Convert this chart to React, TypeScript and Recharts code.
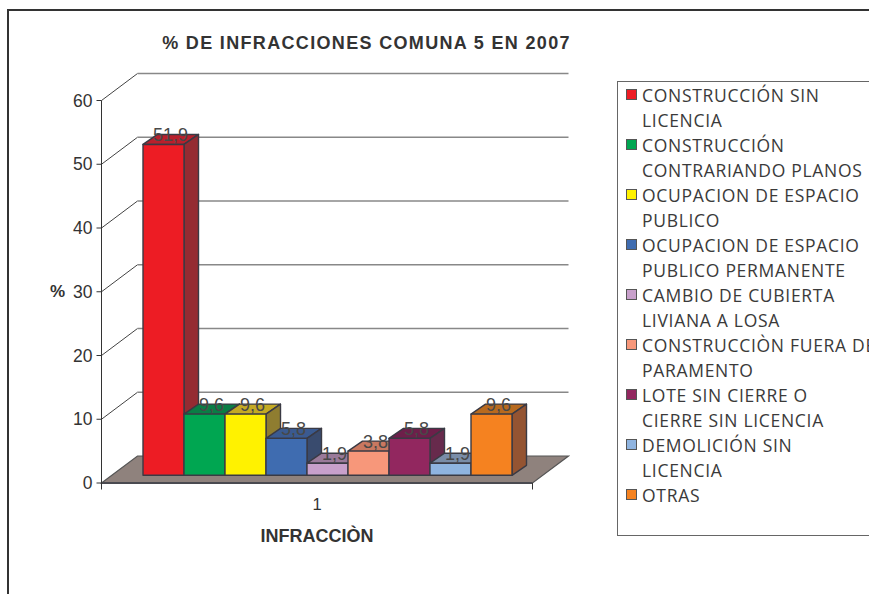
import React from "react";
import { BarChart, Bar, XAxis, YAxis, Legend, ReferenceLine, LabelList, Label } from "recharts";

const title = "% DE INFRACCIONES COMUNA 5 EN 2007";
const categories = ["1"];
const yTicks = [0, 10, 20, 30, 40, 50, 60];
const seriesNames = [
  "CONSTRUCCIÓN SIN\nLICENCIA",
  "CONSTRUCCIÓN\nCONTRARIANDO PLANOS",
  "OCUPACION DE ESPACIO\nPUBLICO",
  "OCUPACION DE ESPACIO\nPUBLICO PERMANENTE",
  "CAMBIO DE CUBIERTA\nLIVIANA A LOSA",
  "CONSTRUCCIÒN FUERA DE\nPARAMENTO",
  "LOTE SIN CIERRE O\nCIERRE SIN LICENCIA",
  "DEMOLICIÓN SIN\nLICENCIA",
  "OTRAS",
];
const seriesValues = [51.9, 9.6, 9.6, 5.8, 1.9, 3.8, 5.8, 1.9, 9.6];
const frontColors = ["#ed1c24", "#00a651", "#fff200", "#3f6cb0", "#c8a0cb", "#f7977a", "#92275f", "#8fb4e0", "#f58220"];
const topColors = ["#b8202c", "#0a7d45", "#c4aa24", "#3a5a90", "#9a7a9a", "#c97860", "#6d1f4a", "#7a8da8", "#b86a1e"];
const sideColors = ["#952b32", "#1f6b45", "#8f7d30", "#394b6e", "#85698a", "#9c6552", "#672a4c", "#62748c", "#945432"];

const data = categories.map((c) => {
  const row: Record<string, string | number> = { category: c };
  seriesValues.forEach((v, i) => (row["s" + i] = v));
  return row;
});

const EDGE = "#3a3a44";
const DEPTH_X = 36;
const DEPTH_Y = 27;
const BAR_DX = 10.5;
const BAR_DY = 7.7;
const BAR_DEPTH_X = 14.5;
const BAR_DEPTH_Y = 10;

const bar3d = (i: number) => (p: any) => {
  const x = p.x + BAR_DX;
  const y = p.y - BAR_DY;
  const w = p.width;
  const h = p.height;
  const dx = BAR_DEPTH_X;
  const dy = BAR_DEPTH_Y;
  return (
    <g stroke={EDGE} strokeWidth={1.4} strokeLinejoin="round">
      <polygon points={`${x},${y} ${x + dx},${y - dy} ${x + w + dx},${y - dy} ${x + w},${y}`} fill={topColors[i]} />
      <polygon points={`${x + w},${y} ${x + w + dx},${y - dy} ${x + w + dx},${y + h - dy} ${x + w},${y + h}`} fill={sideColors[i]} />
      <rect x={x} y={y} width={w} height={h} fill={frontColors[i]} />
    </g>
  );
};

const valueLabel = (p: any) => {
  const vb = p.viewBox || p;
  return (
    <text
      x={vb.x + vb.width / 2 + BAR_DX + 7}
      y={vb.y - BAR_DY - 3}
      textAnchor="middle"
      fontFamily="Liberation Sans"
      fontSize={18}
      fill="#484848"
    >
      {String(p.value).replace(".", ",")}
    </text>
  );
};

const gridLine = (p: any) => (
  <g fill="none">
    <line x1={p.x1} y1={p.y1} x2={p.x1 + DEPTH_X} y2={p.y1 - DEPTH_Y} stroke="#444" strokeWidth={1} />
    <line x1={p.x1 + DEPTH_X} y1={p.y1 - DEPTH_Y} x2={p.x2 + DEPTH_X} y2={p.y1 - DEPTH_Y} stroke="#888" strokeWidth={1.5} />
  </g>
);

const floor = (p: any) => (
  <g>
    <polygon
      points={`${p.x1},${p.y1} ${p.x1 + DEPTH_X},${p.y1 - DEPTH_Y} ${p.x2 + DEPTH_X},${p.y1 - DEPTH_Y} ${p.x2},${p.y1}`}
      fill="#8f827d"
      stroke="#555"
      strokeWidth={1.2}
    />
    <line x1={p.x1} y1={p.y1} x2={p.x2} y2={p.y1} stroke="#4a4a50" strokeWidth={2} />
    <line x1={p.x1} y1={p.y1} x2={p.x1} y2={p.y1 + 6.5} stroke="#333" strokeWidth={1} />
    <line x1={p.x2} y1={p.y1} x2={p.x2} y2={p.y1 + 6.5} stroke="#333" strokeWidth={1} />
  </g>
);

const legendContent = (p: any) => (
  <div
    style={{
      boxSizing: "border-box",
      width: 300,
      height: 455,
      background: "#fff",
      border: "1.5px solid #666",
      padding: "1.5px 0 0 8px",
      fontFamily: "Open Sans",
      fontSize: 17.5,
      lineHeight: "25px",
      letterSpacing: "0.7px",
      color: "#3a3a3a",
    }}
  >
    {(p.payload || []).map((e: any, i: number) => (
      <div key={i} style={{ display: "flex", alignItems: "flex-start" }}>
        <span
          style={{
            boxSizing: "border-box",
            display: "block",
            width: 11,
            height: 11,
            marginTop: 5.5,
            marginRight: 5,
            flex: "none",
            background: e.color,
            border: "1.5px solid #555",
          }}
        />
        <span style={{ whiteSpace: "pre" }}>{e.value}</span>
      </div>
    ))}
  </div>
);

export default function App() {
  return (
    <div style={{ position: "fixed", left: 0, top: 0, width: 869, height: 594, overflow: "hidden", background: "#fff" }}>
      <div style={{ position: "absolute", left: 7, top: 9, width: 900, height: 700, border: "2px solid #333" }} />
      <div style={{ position: "absolute", left: 0, top: 0 }}>
        <BarChart
          width={869}
          height={594}
          data={data}
          margin={{ top: 100.5, right: 336.5, bottom: 81, left: 41.5 }}
          barGap={0}
          barSize={41}
          style={{ background: "transparent" }}
        >
          <text x={366.5} y={49} textAnchor="middle" fontFamily="Liberation Sans" fontWeight="bold" fontSize={18} letterSpacing={1.33} fill="#333">
            {title}
          </text>
          <XAxis
            dataKey="category"
            height={30}
            axisLine={false}
            tickLine={false}
            tick={{ fontFamily: "Liberation Sans", fontSize: 16.5, fill: "#333" }}
            tickMargin={9}
          >
            <Label value="INFRACCIÒN" position="insideBottom" offset={-29} fontFamily="Liberation Sans" fontWeight="bold" fontSize={18} fill="#333" />
          </XAxis>
          <YAxis
            width={60}
            domain={[0, 60]}
            ticks={yTicks}
            interval={0}
            tickSize={5}
            tickMargin={4}
            stroke="#333"
            tick={{ fontFamily: "Liberation Sans", fontSize: 17.5, fill: "#333" }}
          />
          <text x={57.5} y={297} textAnchor="middle" fontFamily="Liberation Sans" fontWeight="bold" fontSize={17} fill="#333">
            %
          </text>
          <ReferenceLine y={0} shape={floor} zIndex={-50} ifOverflow="visible" />
          {yTicks.slice(1).map((t) => (
            <ReferenceLine key={t} y={t} shape={gridLine} zIndex={-50} ifOverflow="visible" />
          ))}
          {seriesNames.map((n, i) => (
            <Bar key={n} dataKey={"s" + i} name={n} fill={frontColors[i]} shape={bar3d(i)} isAnimationActive={false}>
              <LabelList dataKey={"s" + i} content={valueLabel} />
            </Bar>
          ))}
          <Legend
            layout="vertical"
            align="center"
            verticalAlign="middle"
            itemSorter={null}
            content={legendContent}
            wrapperStyle={{ position: "absolute", left: 617, top: 80.5, width: 300, height: 455, margin: 0 }}
          />
        </BarChart>
      </div>
    </div>
  );
}
